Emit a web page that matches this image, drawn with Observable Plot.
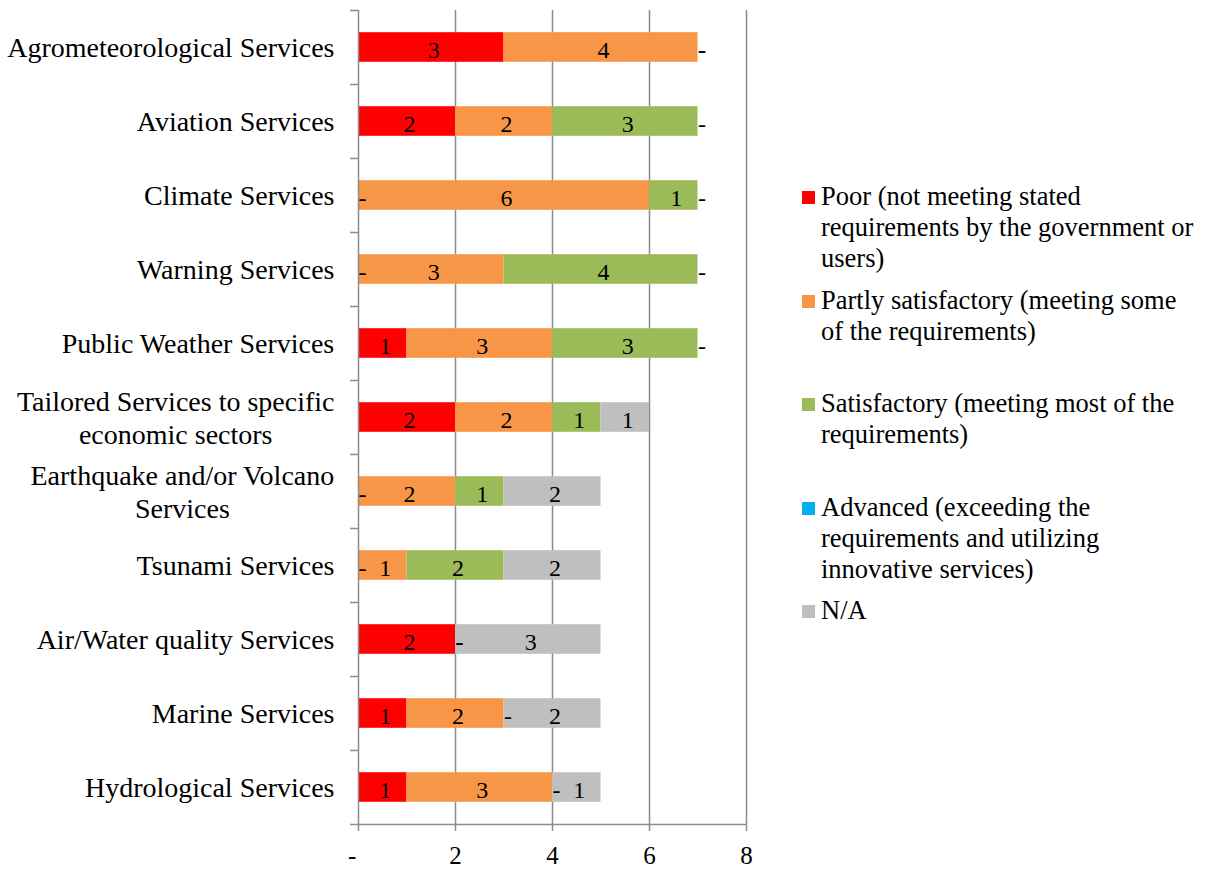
<!DOCTYPE html>
<html>
<head>
<meta charset="utf-8">
<script src="https://cdn.jsdelivr.net/npm/d3@7"></script>
<script src="https://cdn.jsdelivr.net/npm/@observablehq/plot@0.6"></script>
<style>
  html, body { margin: 0; padding: 0; background: #fff; }
  #chart { position: relative; width: 1207px; height: 870px; font-family: "Liberation Serif", "Times New Roman", serif; }
  #chart svg { position: absolute; left: 0; top: 0; }
  .legend { position: absolute; left: 802px; top: 181px; }
  .legend-item { display: flex; align-items: flex-start; height: 103.6px; }
  .swatch { width: 13px; height: 13px; margin-top: 10px; margin-right: 6px; flex: none; }
  .legend-text { font-size: 26.5px; line-height: 31px; white-space: pre-line; color: #000; }
</style>
</head>
<body>
<div id="chart"></div>
<script>
// Service categories, top to bottom
const categories = [
  "Agrometeorological Services",
  "Aviation Services",
  "Climate Services",
  "Warning Services",
  "Public Weather Services",
  "Tailored Services to specific economic sectors",
  "Earthquake and/or Volcano Services",
  "Tsunami Services",
  "Air/Water quality Services",
  "Marine Services",
  "Hydrological Services"
];
const categoryLabels = [
  "Agrometeorological Services",
  "Aviation Services",
  "Climate Services",
  "Warning Services",
  "Public Weather Services",
  "Tailored Services to specific\neconomic sectors",
  "Earthquake and/or Volcano\nServices",
  "Tsunami Services",
  "Air/Water quality Services",
  "Marine Services",
  "Hydrological Services"
];

// Rating levels
const seriesNames = ["Poor", "Partly satisfactory", "Satisfactory", "Advanced", "N/A"];
const legendLabels = [
  "Poor (not meeting stated\nrequirements by the government or\nusers)",
  "Partly satisfactory (meeting some\nof the requirements)",
  "Satisfactory (meeting most of the\nrequirements)",
  "Advanced (exceeding the\nrequirements and utilizing\ninnovative services)",
  "N/A"
];
const seriesColors = ["#ff0000", "#f79646", "#9bbb59", "#00b0f0", "#bfbfbf"];
// Levels that carry value labels on the bars
const labelledSeries = ["Poor", "Partly satisfactory", "Satisfactory", "N/A"];

// Number of responses per category
const poor          = [3, 2, 0, 0, 1, 2, 0, 0, 2, 1, 1];
const partly        = [4, 2, 6, 3, 3, 2, 2, 1, 0, 2, 3];
const satisfactory  = [0, 3, 1, 4, 3, 1, 1, 2, 0, 0, 0];
const advanced      = [0, 0, 0, 0, 0, 0, 0, 0, 0, 0, 0];
const notApplicable = [0, 0, 0, 0, 0, 1, 2, 2, 3, 2, 1];

const xTicks = [0, 2, 4, 6, 8];
const xTickLabels = ["-\u2007", "2", "4", "6", "8"];

const seriesValues = [poor, partly, satisfactory, advanced, notApplicable];
const segments = categories.flatMap((category, row) =>
  seriesNames.map((series, s) => ({category, row, series, value: seriesValues[s][row]}))
);

const serif = '"Liberation Serif", "Times New Roman", serif';
const axisGray = "#8c8c8c";
const catFontSize = 28;
const catGap = 24;

// Widest line of each category label, so wrapped lines centre on each other
const ctx = document.createElement("canvas").getContext("2d");
ctx.font = `${catFontSize}px "Liberation Serif"`;
const labelWidth = (s) => d3.max(s.split("\n"), (line) => ctx.measureText(line).width);

const isLabelled = (d) => labelledSeries.includes(d.series);
const bandY1 = (d) => d.row + 0.3;
const bandY2 = (d) => d.row + 0.7;
const bandMid = (d) => d.row + 0.5;

const chart = Plot.plot({
  width: 1207,
  height: 870,
  marginLeft: 358,
  marginRight: 461,
  marginTop: 10,
  marginBottom: 46,
  style: {fontFamily: serif, background: "transparent", color: "#000"},
  x: {domain: [0, 8], axis: null},
  y: {domain: [0, categories.length], reverse: true, axis: null},
  color: {domain: seriesNames, range: seriesColors},
  marks: [
    // vertical gridlines
    Plot.ruleX(xTicks.filter((d) => d > 0), {stroke: axisGray, strokeWidth: 1.5}),
    // stacked bars
    Plot.rectX(segments, {x: "value", y1: bandY1, y2: bandY2, fill: "series"}),
    // axis lines
    Plot.ruleX([0], {stroke: axisGray, strokeWidth: 1.5}),
    Plot.ruleY([categories.length], {stroke: axisGray, strokeWidth: 1.5}),
    // category separators on the left axis
    Plot.axisY(d3.range(categories.length + 1), {
      tickSize: 8, tickFormat: () => "", stroke: axisGray, strokeWidth: 1.5, label: null
    }),
    // value axis
    Plot.axisX(xTicks, {
      tickSize: 7, tickPadding: 14.5, stroke: axisGray, strokeWidth: 1.5, fill: "#000",
      fontSize: 25, fontFamily: serif, label: null,
      tickFormat: (d) => xTickLabels[xTicks.indexOf(d)]
    }),
    // value labels
    Plot.text(segments, Plot.stackX({
      x: "value", y: bandMid,
      text: (d) => (isLabelled(d) && d.value > 0 ? String(d.value) : null),
      fontSize: 24, fontFamily: serif, fill: "#000", dx: 2.5, dy: 3
    })),
    // zero values shown as a dash
    Plot.text(segments, Plot.stackX({
      x: "value", y: bandMid,
      text: (d) => (isLabelled(d) && d.value === 0 ? "-" : null),
      textAnchor: "start",
      fontSize: 24, fontFamily: serif, fill: "#000", dx: 0, dy: 3
    })),
    // category labels
    ...categoryLabels.map((label, row) =>
      Plot.text([{label, row}], {
        x: () => 0, y: bandMid, text: "label",
        textAnchor: "middle", lineHeight: 1.18,
        dx: -(catGap + labelWidth(label) / 2), dy: -1,
        fontSize: catFontSize, fontFamily: serif, fill: "#000"
      })
    )
  ]
});

const container = document.getElementById("chart");
container.appendChild(chart);

// legend
const legend = d3.select(container).append("div").attr("class", "legend");
const items = legend.selectAll("div").data(seriesNames).join("div").attr("class", "legend-item");
items.append("div").attr("class", "swatch").style("background", (d, i) => seriesColors[i]);
items.append("div").attr("class", "legend-text").text((d, i) => legendLabels[i]);
</script>
</body>
</html>
